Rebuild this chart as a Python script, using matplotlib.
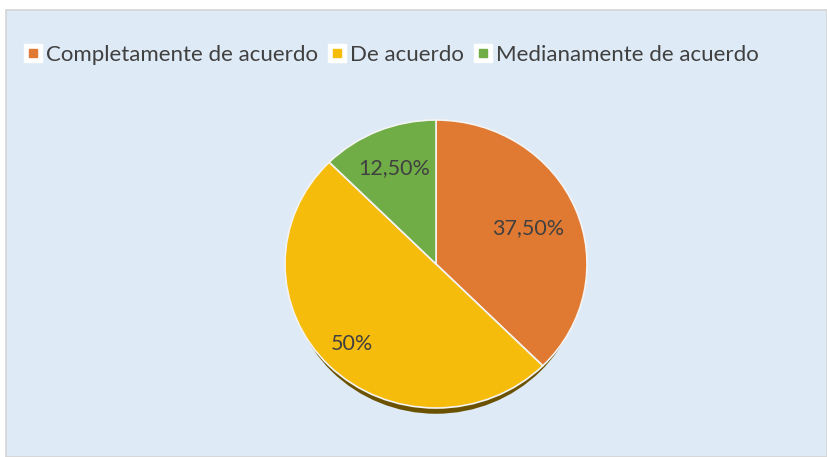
import matplotlib
matplotlib.use("Agg")
import matplotlib.pyplot as plt
from matplotlib.patches import Rectangle, Ellipse
from matplotlib.lines import Line2D
import numpy as np

# data
categories = ["Completamente de acuerdo", "De acuerdo", "Medianamente de acuerdo"]
values = [37.5, 50.0, 12.5]
labels = ["37,50%", "50%", "12,50%"]
colors = ["#E07A33", "#F6BC0C", "#70AD47"]

W, H = 827, 457
plt.rcParams["font.family"] = ["Lato", "DejaVu Sans"]
fig = plt.figure(figsize=(W / 100, H / 100), dpi=100, facecolor="white")

# chart area background
bg = Rectangle((6 / W, 0), 1 - 6 / W, 1 - 10 / H, transform=fig.transFigure,
               facecolor="#DEEAF6", edgecolor="#D4D4D4", linewidth=1.2, zorder=-5)
fig.patches.append(bg)

# pie axes (slightly squashed, like the tilted excel pie)
cx, cy, rx, ry = 436, 264, 151, 144
ax = fig.add_axes([(cx - rx) / W, (H - cy - ry) / H, 2 * rx / W, 2 * ry / H])
ax.set_zorder(2)
ax.axis("off")

# shadow under the pie
ax.add_patch(Ellipse((0.0, -0.04), 1.95, 2.0, facecolor="#6B5200", edgecolor="none",
                     zorder=0, clip_on=False))

wedges, _ = ax.pie(values, colors=colors, startangle=90, counterclock=False,
                   radius=1.0, wedgeprops=dict(edgecolor="#F4F4F4", linewidth=1.2))
for w in wedges:
    w.set_clip_on(False)
ax.set_aspect("auto")
ax.set_xlim(-1, 1)
ax.set_ylim(-1, 1)

label_r = [0.66, 0.79, 0.72]
for w, lab, rr in zip(wedges, labels, label_r):
    ang = np.deg2rad((w.theta1 + w.theta2) / 2)
    ax.text(rr * np.cos(ang), rr * np.sin(ang), lab, ha="center", va="center",
            fontsize=15.5, color="#404040")

handles = [(Line2D([], [], marker="s", linestyle="none", markersize=13,
                   markerfacecolor="white", markeredgecolor="white"),
            Line2D([], [], marker="s", linestyle="none", markersize=5.5,
                   markerfacecolor=c, markeredgecolor=c))
           for c in colors]
fig.legend(handles, categories, loc="center left", bbox_to_anchor=(16 / W, 1 - 55 / H),
           ncol=3, frameon=False, fontsize=16.0, labelcolor="#404040",
           handlelength=0.7, handletextpad=0.25, columnspacing=0.5, borderaxespad=0)

fig.savefig("out.png", dpi=100, facecolor="white")
